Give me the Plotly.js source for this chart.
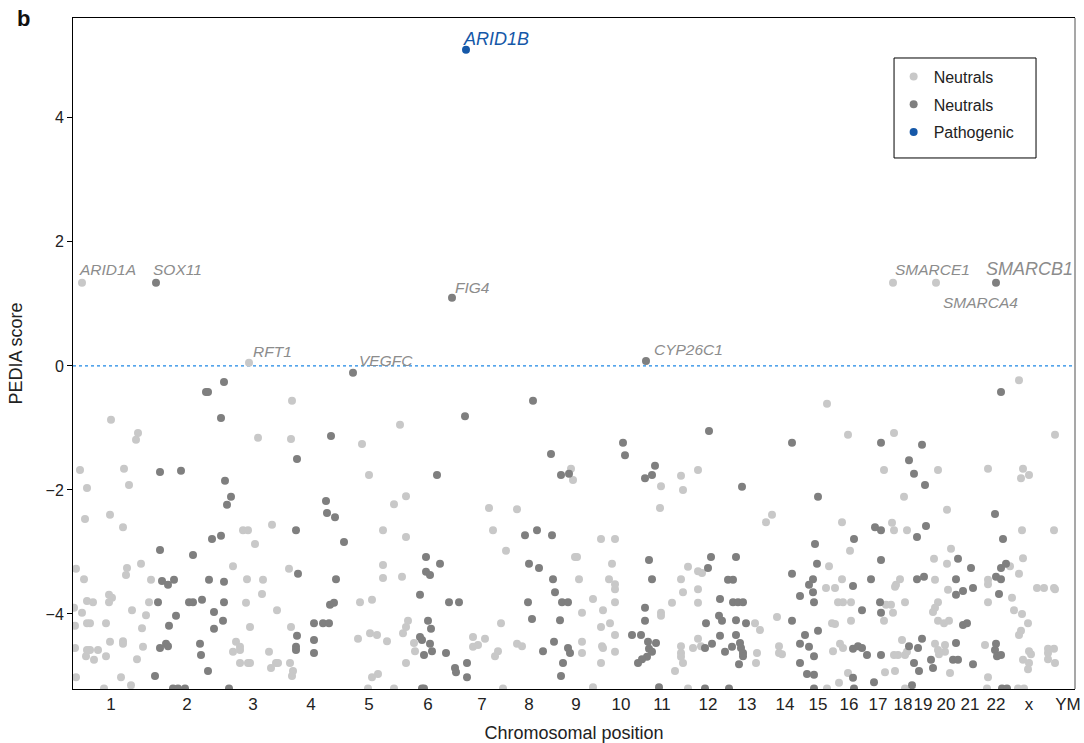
<!DOCTYPE html>
<html>
<head>
<meta charset="utf-8">
<script src="https://cdn.plot.ly/plotly-3.0.1.min.js"></script>
<style>html,body{margin:0;padding:0;background:#fff;}#chart{width:1084px;height:743px;}</style>
</head>
<body>
<div id="chart"></div>
<script>
// Chromosome tick positions (genome coordinate, arbitrary units) and labels
const chromTickPos = [111,187,253,311,369,428,482,529,576,621,662,708,747,785,818,849,878,903,923,946,970,996,1029,1068];
const chromTickText = ['1','2','3','4','5','6','7','8','9','10','11','12','13','14','15','16','17','18','19','20','21','22','x','YM'];

// Neutral genes (light grey) : position, PEDIA score
const lightX = [292,111,138,136,258,291,80,124,87,129,85,110,123,243,248,272,
255,76,127,141,126,233,289,84,151,247,263,262,109,112,87,93,109,149,246,74,82,132,146,277,87,90,106,75,142,250,291,110,123,123,236,75,143,240,87,90,98,86,106,94,233,240,269,137,240,248,250,276,278,290,271,293,292,76,121,131,104,
400,362,369,571,573,394,406,489,517,383,493,
406,506,575,383,383,402,360,372,408,406,501,370,377,403,358,387,414,473,485,473,478,517,522,415,498,495,406,378,372,368,394,503,
827,661,681,683,698,660,772,766,
601,615,577,612,579,609,615,615,593,603,615,582,610,601,615,582,582,602,603,615,601,593,688,698,702,681,683,698,698,672,661,661,755,760,698,681,693,701,757,756,681,681,683,675,688,777,779,779,782,829,826,827,
1019,848,894,884,938,988,1023,1029,1021,1055,904,947,842,892,894,907,1022,1054,
951,850,934,947,1010,1023,1019,842,835,900,896,895,935,988,988,948,1012,1037,1044,1054,1055,838,843,851,886,891,905,938,988,893,935,933,1014,1022,832,835,851,884,938,944,949,1028,1021,1019,902,985,833,840,843,894,898,905,907,935,938,945,945,939,885,895,950,1029,1031,1023,1029,1028,1048,1054,1048,1055,1048,848,839,988,905,987,1018,1024];
const lightY = [-0.56,-0.87,-1.08,-1.19,-1.16,-1.18,-1.68,-1.66,-1.97,-1.92,-2.47,-2.40,-2.60,-2.65,-2.65,-2.56,
-2.87,-3.27,-3.26,-3.19,-3.37,-3.23,-3.27,-3.44,-3.45,-3.44,-3.45,-3.68,-3.69,-3.74,-3.79,-3.81,-3.81,-3.81,-3.82,-3.90,-3.98,-3.94,-4.02,-3.94,-4.15,-4.15,-4.15,-4.19,-4.23,-4.21,-4.21,-4.45,-4.44,-4.48,-4.45,-4.55,-4.53,-4.53,-4.58,-4.58,-4.58,-4.68,-4.68,-4.74,-4.61,-4.58,-4.61,-4.73,-4.79,-4.79,-4.79,-4.79,-4.79,-4.79,-4.87,-4.92,-5.00,-5.02,-5.02,-5.15,-5.2,
-0.95,-1.26,-1.76,-1.66,-1.84,-2.23,-2.10,-2.29,-2.31,-2.65,-2.65,
-2.76,-2.98,-3.08,-3.21,-3.42,-3.40,-3.81,-3.77,-4.11,-4.21,-4.15,-4.31,-4.34,-4.31,-4.40,-4.44,-4.47,-4.37,-4.40,-4.53,-4.50,-4.48,-4.52,-4.60,-4.60,-4.68,-4.79,-4.97,-5.02,-5.2,-5.2,-5.2,
-0.61,-1.94,-1.77,-2.00,-1.68,-2.29,-2.40,-2.52,
-2.79,-2.79,-3.08,-3.19,-3.44,-3.44,-3.52,-3.60,-3.76,-3.94,-3.81,-3.98,-4.15,-4.21,-4.34,-4.45,-4.63,-4.52,-4.55,-4.61,-4.79,-5.18,-3.24,-3.31,-3.34,-3.44,-3.65,-3.60,-3.82,-3.82,-3.98,-4.03,-4.15,-4.26,-4.40,-4.52,-4.55,-4.52,-4.63,-4.79,-4.63,-4.69,-4.79,-4.92,-5.2,-4.05,-4.52,-4.63,-4.65,-3.23,-3.58,-5.2,
-0.23,-1.11,-1.08,-1.68,-1.68,-1.66,-1.66,-1.76,-1.81,-1.11,-2.11,-2.32,-2.52,-2.53,-2.65,-2.65,-2.65,-2.65,
-2.95,-2.98,-3.11,-3.19,-3.23,-3.10,-3.35,-3.44,-3.58,-3.44,-3.53,-3.56,-3.45,-3.45,-3.52,-3.61,-3.74,-3.58,-3.58,-3.58,-3.60,-3.81,-3.81,-3.81,-3.85,-3.85,-3.81,-3.81,-3.81,-3.98,-3.90,-3.97,-3.94,-4.00,-4.15,-4.16,-4.11,-4.11,-4.11,-4.15,-4.11,-4.15,-4.27,-4.34,-4.42,-4.50,-4.60,-4.48,-4.55,-4.66,-4.66,-4.66,-4.61,-4.48,-4.58,-4.50,-4.61,-4.65,-4.94,-4.92,-4.95,-4.60,-4.65,-4.74,-4.79,-4.89,-4.56,-4.56,-4.63,-4.79,-4.73,-4.95,-5.11,-5.02,-5.2,-5.2,-5.2,-5.2];

// Neutral genes (dark grey)
const darkX = [206,208,224,221,297,160,181,225,231,227,296,
212,221,160,193,298,162,168,174,209,224,158,189,193,202,224,214,176,223,169,214,314,297,166,168,200,314,160,296,296,201,314,208,155,173,178,185,229,
533,465,331,437,551,561,569,326,327,335,537,
525,552,344,426,440,529,539,426,430,336,553,555,420,330,334,449,459,528,562,568,323,329,428,431,532,560,420,422,430,554,432,424,446,543,568,570,563,467,455,456,467,561,422,424,
709,623,625,792,655,652,645,742,818,
649,652,645,645,632,641,648,656,649,652,647,642,638,659,708,711,736,728,733,720,733,738,743,719,722,706,736,746,720,736,712,705,725,732,740,741,743,743,739,705,729,792,800,792,815,817,813,809,813,814,805,818,800,809,814,800,807,814,814,
1001,881,922,909,914,925,995,875,881,926,
854,917,1003,881,958,971,1001,1006,871,853,917,924,956,996,1001,956,963,973,999,880,862,881,963,967,922,956,996,853,858,862,867,881,909,918,931,953,958,995,997,1001,914,973,919,933,853,874,912,854,1002,1007];
const darkY = [-0.42,-0.42,-0.26,-0.84,-1.50,-1.71,-1.69,-1.85,-2.11,-2.24,-2.65,
-2.79,-2.74,-2.97,-3.05,-3.35,-3.47,-3.53,-3.45,-3.45,-3.48,-3.81,-3.81,-3.81,-3.77,-3.81,-3.97,-4.03,-4.11,-4.19,-4.24,-4.15,-4.35,-4.48,-4.52,-4.48,-4.42,-4.55,-4.53,-4.58,-4.66,-4.63,-4.92,-5.00,-5.2,-5.2,-5.2,-5.2,
-0.56,-0.81,-1.13,-1.76,-1.42,-1.76,-1.74,-2.18,-2.37,-2.44,-2.65,
-2.73,-2.73,-2.84,-3.08,-3.19,-3.19,-3.26,-3.32,-3.37,-3.44,-3.44,-3.65,-3.69,-3.85,-3.82,-3.81,-3.81,-3.81,-3.81,-3.81,-4.15,-4.15,-4.11,-4.24,-4.08,-4.10,-4.37,-4.42,-4.48,-4.45,-4.60,-4.66,-4.63,-4.60,-4.55,-4.63,-4.79,-4.79,-4.87,-4.94,-5.02,-5.00,-5.2,-5.2,
-1.05,-1.24,-1.44,-1.24,-1.61,-1.76,-1.81,-1.95,-2.11,
-3.13,-3.44,-3.90,-4.11,-4.34,-4.34,-4.45,-4.47,-4.56,-4.61,-4.69,-4.73,-4.79,-5.18,-3.26,-3.08,-3.08,-3.45,-3.45,-3.76,-3.81,-3.81,-3.81,-4.03,-4.11,-4.15,-4.10,-4.15,-4.35,-4.34,-4.48,-4.55,-4.61,-4.53,-4.47,-4.55,-4.63,-4.68,-4.81,-5.2,-5.2,-3.35,-3.71,-4.11,-2.87,-3.19,-3.44,-3.53,-3.65,-3.81,-4.34,-4.27,-4.48,-4.53,-4.68,-4.79,-4.97,-4.98,-5.2,
-0.42,-1.24,-1.27,-1.52,-1.74,-1.92,-2.39,-2.60,-2.65,-2.58,
-2.79,-2.76,-2.79,-3.13,-3.11,-3.26,-3.26,-3.19,-3.44,-3.55,-3.44,-3.40,-3.44,-3.40,-3.44,-3.69,-3.63,-3.58,-3.68,-3.81,-3.94,-3.98,-4.18,-4.15,-4.40,-4.47,-4.48,-4.56,-4.52,-4.55,-4.66,-4.66,-4.52,-4.55,-4.74,-4.74,-4.74,-4.58,-4.68,-4.66,-4.79,-4.81,-4.92,-4.87,-5.03,-5.10,-5.15,-5.2,-5.2,-5.2];

// Labelled genes
const geneNames = ['ARID1A','SOX11','RFT1','VEGFC','FIG4','ARID1B','CYP26C1','SMARCE1','SMARCA4','SMARCB1'];
const geneX = [82,156,249,353,452,466,646,893,936,996];
const geneY = [1.34,1.34,0.05,-0.11,1.10,5.10,0.08,1.34,1.34,1.34];
const geneClass = ['light','dark','light','dark','dark','path','dark','light','light','dark'];

// ---- styling ----
const COLORS = {light:'#c8c8c8', dark:'#7f7f7f', path:'#1558a8'};
const FONT = 'Liberation Sans, Arial, sans-serif';
const NARROW = 'Liberation Sans Narrow, Arial Narrow, Liberation Sans, Arial, sans-serif';
const labelStyle = {
  ARID1A:{dx:-5,dy:13,size:15.5}, SOX11:{dx:-5,dy:13,size:15.5}, RFT1:{dx:2,dy:11,size:15.5},
  VEGFC:{dx:4,dy:12,size:15.5}, FIG4:{dx:1,dy:10,size:15.5}, ARID1B:{dx:-5,dy:11,size:18},
  CYP26C1:{dx:6,dy:11,size:15.5}, SMARCE1:{dx:0,dy:13,size:15.5}, SMARCA4:{dx:5,dy:-20,size:15.5},
  SMARCB1:{dx:-12,dy:14,size:18}
};

function pick(cls){
  const xs=[], ys=[];
  geneClass.forEach((c,i)=>{ if(c===cls){ xs.push(geneX[i]); ys.push(geneY[i]); } });
  return {xs, ys};
}
const gl = pick('light'), gd = pick('dark'), gp = pick('path');

const traces = [
  {type:'scatter', mode:'markers', name:'Neutrals', x: lightX.concat(gl.xs), y: lightY.concat(gl.ys),
   marker:{color:COLORS.light, size:8}, legendgroup:'a', hoverinfo:'skip'},
  {type:'scatter', mode:'markers', name:'Neutrals', x: darkX.concat(gd.xs), y: darkY.concat(gd.ys),
   marker:{color:COLORS.dark, size:8}, legendgroup:'b', hoverinfo:'skip'},
  {type:'scatter', mode:'markers', name:'Pathogenic', x: gp.xs, y: gp.ys,
   marker:{color:COLORS.path, size:8}, legendgroup:'c', hoverinfo:'skip'}
];

const annotations = geneNames.map((n,i)=>({
  x: geneX[i], y: geneY[i], xref:'x', yref:'y', text:'<i>'+n+'</i>', showarrow:false,
  xanchor:'left', yanchor:'middle', xshift: labelStyle[n].dx, yshift: labelStyle[n].dy,
  font:{family:FONT, size: labelStyle[n].size,
        color: geneClass[i]==='path' ? COLORS.path : '#8c8c8c'}
}));
annotations.push({xref:'paper', yref:'paper', x:-0.058, y:1.0, text:'<b>b</b>', showarrow:false,
  xanchor:'left', yanchor:'middle', font:{family:FONT, size:22, color:'#111'}});

const layout = {
  width:1084, height:743,
  margin:{l:73, r:9, t:18, b:54},
  paper_bgcolor:'#fff', plot_bgcolor:'#fff',
  font:{family:FONT, color:'#222', size:15},
  showlegend:true,
  legend:{x:0.819, y:0.938, xanchor:'left', yanchor:'top', bgcolor:'rgba(0,0,0,0)', borderwidth:0,
          font:{size:16, color:'#222'}, tracegroupgap:4, traceorder:'grouped'},
  xaxis:{range:[73,1075], tickmode:'array', tickvals:chromTickPos, ticktext:chromTickText,
         showgrid:false, zeroline:false, showline:true, linecolor:'#000', linewidth:1, mirror:true,
         ticks:'', tickangle:0, tickfont:{family:NARROW, size:17, color:'#222'},
         title:{text:'Chromosomal position', font:{size:18, color:'#222'}, standoff:12}},
  yaxis:{range:[-5.21,5.61], tickvals:[-4,-2,0,2,4], ticktext:['\u22124','\u22122','0','2','4'],
         showgrid:false, zeroline:false, showline:true, linecolor:'#000', linewidth:1,
         ticks:'outside', ticklen:5, tickcolor:'#000', tickfont:{size:16, color:'#222'},
         title:{text:'PEDIA score', font:{size:18, color:'#222'}, standoff:18}},
  shapes:[
    {type:'line', xref:'paper', yref:'y', x0:0, x1:1, y0:0, y1:0, line:{color:'#1e88e5', width:1.2, dash:'dot'}, layer:'below'},
    {type:'line', xref:'paper', yref:'paper', x0:1, x1:1, y0:0, y1:1, line:{color:'#8a8a8a', width:1.5}},
    {type:'rect', xref:'paper', yref:'paper', x0:0.8194, x1:0.9611, y0:0.7914, y1:0.9404,
     line:{color:'#000', width:1}, fillcolor:'#fff', layer:'above'}
  ],
  annotations: annotations
};

Plotly.newPlot('chart', traces, layout, {displayModeBar:false, staticPlot:true});
</script>
</body>
</html>
